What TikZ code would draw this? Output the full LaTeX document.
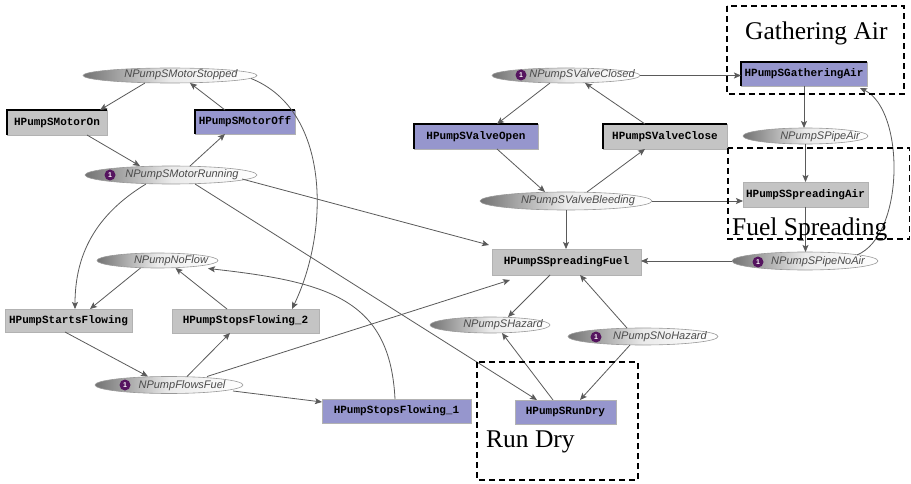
\documentclass[tikz,border=0pt]{standalone}
\usepackage{fontspec}
\setmainfont{Liberation Serif}
\newfontfamily\placefont{Liberation Sans}
\newfontfamily\transfont{Liberation Mono}
\usetikzlibrary{shapes.geometric,arrows.meta,calc}
\definecolor{edgegray}{RGB}{90,90,90}
\definecolor{transgray}{RGB}{196,196,196}
\definecolor{translav}{RGB}{150,150,205}
\definecolor{tokenpurple}{RGB}{85,20,95}
\definecolor{placeink}{RGB}{75,75,75}
\begin{document}
\begin{tikzpicture}[x=1pt,y=-1pt,
  pl/.style={ellipse, draw=black!40, line width=0.6pt, inner sep=0pt, outer sep=0pt,
    left color=black!55, right color=white, middle color=black!8},
  plname/.style={inner sep=0pt, text=placeink, font=\placefont\itshape\fontsize{11}{11}\selectfont},
  tok/.style={circle, fill=tokenpurple, inner sep=0pt, minimum size=11pt, text=white,
    font=\placefont\bfseries\fontsize{7}{7}\selectfont},
  tr/.style={rectangle, draw=black!30, line width=0.5pt, inner sep=0pt, outer sep=0pt,
    fill=transgray, font=\transfont\bfseries\fontsize{11}{11}\selectfont},
  trlav/.style={tr, fill=translav},
  enabledge/.style={draw=black, line width=1.8pt},
  flow/.style={draw=edgegray, line width=0.8pt, -{Stealth[length=7pt,width=6pt,inset=1.5pt]}},
  grpbox/.style={draw=black, line width=1.4pt, dash pattern=on 6pt off 4pt},
  grplabel/.style={inner sep=0pt, anchor=base west, font=\fontsize{25.5}{26}\selectfont},
]
\useasboundingbox[fill=white] (0,0) rectangle (911,484);

% ---------- places ----------
\node[pl, minimum width=174pt, minimum height=15pt] (ms)  at (170,75.5) {};
\node[pl, minimum width=172pt, minimum height=18pt] (mr)  at (171,175) {};
\node[pl, minimum width=121pt, minimum height=15pt] (nf)  at (157.5,260.5) {};
\node[pl, minimum width=148pt, minimum height=17pt] (ff)  at (169,385) {};
\node[pl, minimum width=148pt, minimum height=15pt] (vc)  at (566,75.5) {};
\node[pl, minimum width=172pt, minimum height=18pt] (vb)  at (566,201) {};
\node[pl, minimum width=125pt, minimum height=16pt] (pa)  at (805.5,136) {};
\node[pl, minimum width=146pt, minimum height=18pt] (pna) at (805,261) {};
\node[pl, minimum width=120pt, minimum height=16pt] (hz)  at (490,325) {};
\node[pl, minimum width=150pt, minimum height=17pt] (nhz) at (643,336.5) {};

\node[plname] (ms-l)  at (181,75)  {NPumpSMotorStopped};
\node[plname] (mr-l)  at (182,175) {NPumpSMotorRunning};
\node[plname] (nf-l)  at (171,261) {NPumpNoFlow};
\node[plname] (ff-l)  at (182,386) {NPumpFlowsFuel};
\node[plname] (vc-l)  at (582,75)  {NPumpSValveClosed};
\node[plname] (vb-l)  at (578,201) {NPumpSValveBleeding};
\node[plname] (pa-l)  at (820,137) {NPumpSPipeAir};
\node[plname] (pna-l) at (818,262) {NPumpSPipeNoAir};
\node[plname] (hz-l)  at (503,325) {NPumpSHazard};
\node[plname] (nhz-l) at (660,337) {NPumpSNoHazard};

% tokens
\node[tok] (mr-t)  at (110,175) {1};
\node[tok] (ff-t)  at (125,385) {1};
\node[tok] (vc-t)  at (521,75)  {1};
\node[tok] (nhz-t) at (596,337) {1};
\node[tok] (pna-t) at (758,262) {1};

% ---------- transitions ----------
\node[tr,    minimum width=100pt, minimum height=25pt] (mon)  at (57,122.5)  {HPumpSMotorOn};
\node[trlav, minimum width=100pt, minimum height=24pt] (moff) at (245,122)   {HPumpSMotorOff};
\node[tr,    minimum width=127pt, minimum height=23pt] (sfl)  at (68.5,320.5) {HPumpStartsFlowing};
\node[tr,    minimum width=147pt, minimum height=24pt] (sf2)  at (245.5,321) {HPumpStopsFlowing\_2};
\node[trlav, minimum width=149pt, minimum height=24pt] (sf1)  at (396.5,411) {HPumpStopsFlowing\_1};
\node[trlav, minimum width=101pt, minimum height=24pt] (rd)   at (565.5,412) {HPumpSRunDry};
\node[trlav, minimum width=124pt, minimum height=25pt] (vo)   at (476,136.5) {HPumpSValveOpen};
\node[tr,    minimum width=124pt, minimum height=25pt] (vcl)  at (665,136.5) {HPumpSValveClose};
\node[tr,    minimum width=149pt, minimum height=26pt] (sfu)  at (566.5,262) {HPumpSSpreadingFuel};
\node[trlav, minimum width=126pt, minimum height=24pt] (ga)   at (804,74)    {HPumpSGatheringAir};
\node[tr,    minimum width=125pt, minimum height=25pt] (sa)   at (805.5,194.5) {HPumpSSpreadingAir};

% black top and left edges of the enabled transitions
\foreach \t in {mon,moff,vo,vcl,ga}
  \draw[enabledge] (\t.south west) -- (\t.north west) -- (\t.north east);

% ---------- arcs ----------
% motor
\draw[flow] ($(ms.south)+(-25,0)$) -- ($(mon.north west)+(93,0)$);
\draw[flow] ($(moff.north west)+(30,0)$) -- ($(ms.south)+(20,0)$);
\draw[flow] ($(mon.south west)+(80,0)$) -- ($(mr.north)+(-31,0)$);
\draw[flow] ($(mr.north)+(19,0)$) -- ($(moff.south west)+(30,0)$);
\draw[flow] ($(ms.east)+(-6,3)$) .. controls (330,110) and (330,230) .. ($(sf2.north west)+(120,0)$);
\draw[flow] ($(mr.south)+(-25,0)$) .. controls (95,215) and (75,255) .. ($(sfl.north west)+(70,0)$);
\draw[flow] ($(mr.east)+(-15,4)$) -- ($(sfu.north west)+(-3,-4)$);
\draw[flow] ($(mr.south)+(24,0)$) -- ($(rd.north west)+(22,0)$);
% flow
\draw[flow] ($(nf.south)+(-17,0)$) -- ($(sfl.north west)+(85,0)$);
\draw[flow] ($(sf2.north west)+(55,0)$) -- ($(nf.south)+(18,0)$);
\draw[flow] ($(sf1.north west)+(73,0)$) .. controls (390,300) and (330,282) .. ($(nf.east)+(-10,8)$);
\draw[flow] ($(sfl.south west)+(60,0)$) -- ($(ff.north)+(-21,0)$);
\draw[flow] ($(ff.north)+(18,0)$) -- ($(sf2.south west)+(58,0)$);
\draw[flow] ($(ff.north)+(38,0)$) -- ($(sfu.south west)+(18,5)$);
\draw[flow] ($(ff.east)+(-10,6)$) -- ($(sf1.north west)+(0,3)$);
% valve
\draw[flow] ($(vc.south)+(-16,0)$) -- ($(vo.north west)+(83,0)$);
\draw[flow] ($(vcl.north west)+(42,0)$) -- ($(vc.south)+(19,0)$);
\draw[flow] ($(vo.south west)+(83,0)$) -- ($(vb.north)+(-21,0)$);
\draw[flow] ($(vb.north)+(21,0)$) -- ($(vcl.south west)+(42,0)$);
\draw[flow] (vb.south) -- (vb.south |- sfu.north);
\draw[flow] (vb.east) -- (vb.east -| sa.west);
\draw[flow] (vc.east) -- (vc.east -| ga.west);
% air
\draw[flow] (ga.south) -- (ga.south |- pa.north);
\draw[flow] (pa.south) -- (pa.south |- sa.north);
\draw[flow] (sa.south) -- (sa.south |- pna.north);
\draw[flow] ($(pna.east)+(-21,-6)$) .. controls (905,235) and (905,110) .. ($(ga.south east)+(-7,2)$);
\draw[flow] (pna.west) -- (pna.west -| sfu.east);
% hazard
\draw[flow] ($(sfu.south west)+(58,0)$) -- ($(hz.north)+(18,0)$);
\draw[flow] ($(nhz.north)+(-16,0)$) -- ($(sfu.south west)+(88,0)$);
\draw[flow] ($(rd.north west)+(38,0)$) -- ($(hz.south)+(12,0)$);
\draw[flow] ($(nhz.south)+(-13,0)$) -- ($(rd.north west)+(65,0)$);

% ---------- groups ----------
\draw[grpbox] (727,6) rectangle (904,94);
\draw[grpbox] (728,148) rectangle (909.5,239);
\draw[grpbox] (477,362) rectangle (638,480);
\node[grplabel] (gather) at (745,40)  {Gathering Air};
\node[grplabel] (spread) at (732,235) {Fuel Spreading};
\node[grplabel] (dry)    at (486,447) {Run Dry};
\end{tikzpicture}
\end{document}
